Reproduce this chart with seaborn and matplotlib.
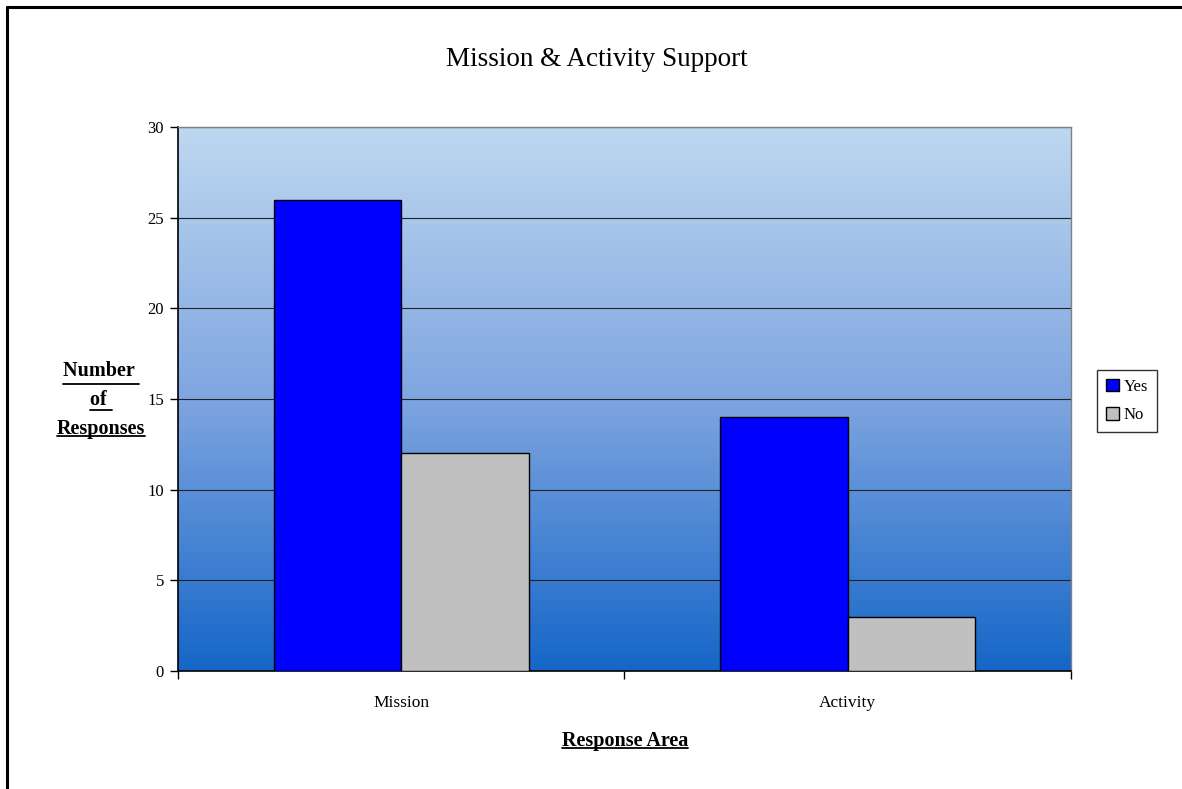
import numpy as np
import pandas as pd
import matplotlib
matplotlib.use("Agg")
import matplotlib.pyplot as plt
from matplotlib.colors import LinearSegmentedColormap
from matplotlib.lines import Line2D
import seaborn as sns

categories = ["Mission", "Activity"]
answers = ["Yes", "No"]
yes_counts = [26, 14]
no_counts = [12, 3]

df = pd.DataFrame({
    "Area": categories * 2,
    "Answer": ["Yes"] * len(categories) + ["No"] * len(categories),
    "Count": yes_counts + no_counts,
})

sns.set_theme(style="white")
plt.rcParams["font.family"] = ["Liberation Serif", "DejaVu Serif"]
plt.rcParams["text.color"] = "black"

W, H = 1182, 789
fig = plt.figure(figsize=(W / 100, H / 100), dpi=100)
ax = fig.add_axes([178 / W, 1 - 671 / H, (1071 - 178) / W, (671 - 127) / H])

# vertical blue gradient behind the bars
grad_cmap = LinearSegmentedColormap.from_list(
    "bg", [(0.0, "#1566c8"), (0.5, "#7fa5e0"), (1.0, "#bed8f0")])
ax.imshow(np.linspace(0, 1, 256).reshape(-1, 1), aspect="auto", cmap=grad_cmap,
          origin="lower", extent=[0, 1, 0, 1], transform=ax.transAxes, zorder=0)

sns.barplot(data=df, x="Area", y="Count", hue="Answer", hue_order=answers,
            palette={"Yes": "#0000ff", "No": "#c0c0c0"}, width=0.57,
            edgecolor="black", linewidth=1.0, saturation=1, ax=ax)

ax.set_xlim(-0.5, 1.5)
ax.set_ylim(0, 30)
ax.set_yticks(range(0, 31, 5))
ax.yaxis.grid(True, color="#222222", linewidth=0.8)
for gl in ax.get_ygridlines():
    gl.set_zorder(2)
for b in ax.patches:
    b.set_zorder(3)

ax.set_xticks([0, 1])
ax.set_xticklabels(categories, fontsize=12.5, color="black")
ax.set_xticks([-0.5, 0.5, 1.5], minor=True)
ax.tick_params(axis="x", which="major", length=0, pad=17)
ax.tick_params(axis="x", which="minor", length=6, width=1, color="black", direction="out", bottom=True)
ax.tick_params(axis="y", length=6, width=1, color="black", direction="out", left=True,
               labelsize=12, labelcolor="black", pad=4)

for side in ["left", "bottom"]:
    ax.spines[side].set_color("black")
    ax.spines[side].set_linewidth(1.2)
for side in ["top", "right"]:
    ax.spines[side].set_color("#808080")
    ax.spines[side].set_linewidth(1.0)

ax.set_xlabel("")
ax.set_ylabel("")

leg = ax.legend(title=None, loc="center left", bbox_to_anchor=(1097 / W, 1 - 401 / H),
                bbox_transform=fig.transFigure, frameon=True, fancybox=False,
                fontsize=12, handlelength=0.75, handleheight=0.75, handletextpad=0.3,
                labelspacing=0.75, borderpad=0.55, borderaxespad=0)
leg.get_frame().set_edgecolor("black")
leg.get_frame().set_linewidth(1.0)
for t in leg.get_texts():
    t.set_color("black")

title = fig.text(597 / W, 1 - 60 / H, "Mission & Activity Support", ha="center", va="center",
                 fontsize=19.5, color="black")
xlab = fig.text(625 / W, 1 - 741 / H, "Response Area", ha="center", va="center",
                fontsize=14.5, fontweight="bold", color="black")
ylab = fig.text(101 / W, 1 - 400 / H, "Number \nof \nResponses", ha="center", va="center",
                fontsize=14.5, fontweight="bold", linespacing=1.6, multialignment="center",
                color="black")

# underline the axis captions
fig.canvas.draw()
renderer = fig.canvas.get_renderer()

def underline(txt_obj, lines):
    bb = txt_obj.get_window_extent(renderer)
    n = len(lines)
    line_h = bb.height / n
    for i, s in enumerate(lines):
        t = fig.text(0, 0, s, fontsize=txt_obj.get_fontsize(), fontweight="bold")
        w = t.get_window_extent(renderer).width
        t.remove()
        cx = (bb.x0 + bb.x1) / 2
        y = bb.y1 - (i + 1) * line_h + 3
        fig.add_artist(Line2D([(cx - w / 2) / W, (cx + w / 2) / W], [y / H, y / H],
                              transform=fig.transFigure, color="black", linewidth=1.3))

underline(xlab, ["Response Area"])
underline(ylab, ["Number ", "of ", "Responses"])

# outer chart frame (left and top edges)
fig.add_artist(Line2D([7 / W, 7 / W], [0, 1 - 7 / H], transform=fig.transFigure,
                      color="black", linewidth=2.2))
fig.add_artist(Line2D([7 / W, 1], [1 - 7 / H, 1 - 7 / H], transform=fig.transFigure,
                      color="black", linewidth=2.2))

fig.savefig("out.png", dpi=100, facecolor="white")
